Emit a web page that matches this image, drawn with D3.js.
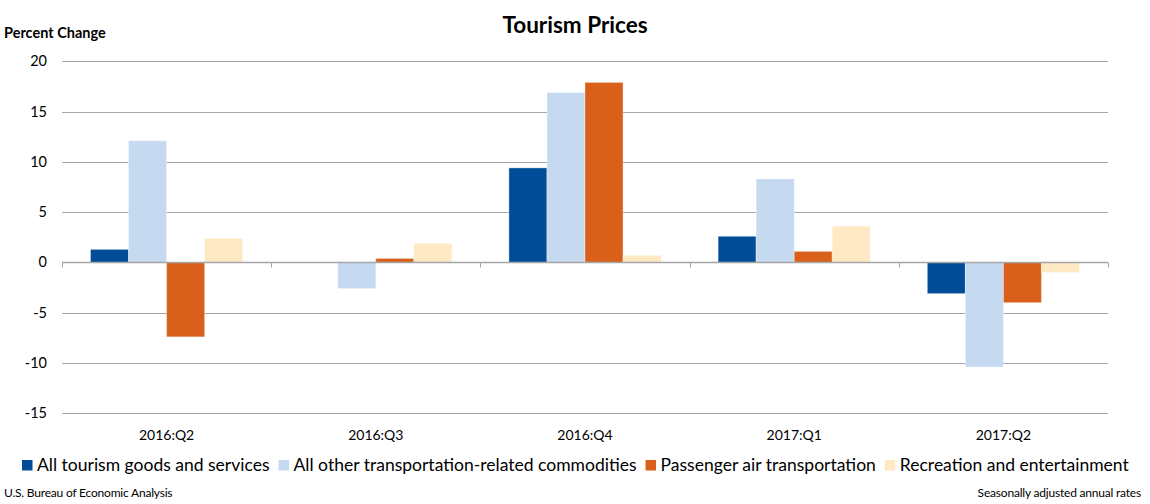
<!DOCTYPE html>
<html>
<head>
<meta charset="utf-8">
<script src="https://cdn.jsdelivr.net/npm/d3@7"></script>
<style>
  html, body { margin: 0; padding: 0; background: #fff; }
  svg { display: block; font-family: Lato, "Open Sans", sans-serif; }
</style>
</head>
<body>
<svg id="chart" width="1150" height="504"></svg>
<script>
const categories = ["2016:Q2", "2016:Q3", "2016:Q4", "2017:Q1", "2017:Q2"];
const seriesNames = [
  "All tourism goods and services",
  "All other transportation-related commodities",
  "Passenger air transportation",
  "Recreation and entertainment"
];
const allTourism = [1.3, 0.0, 9.4, 2.6, -3.1];
const otherTransport = [12.1, -2.6, 16.9, 8.3, -10.4];
const airTransport = [-7.4, 0.4, 17.9, 1.1, -4.0];
const recreation = [2.4, 1.9, 0.7, 3.6, -1.0];
const yTicks = [-15, -10, -5, 0, 5, 10, 15, 20];
const colors = ["#004C97", "#C5D9F1", "#D9601A", "#FFE8C4"];

const seriesValues = [allTourism, otherTransport, airTransport, recreation];

const svg = d3.select("#chart");
const plotLeft = 62, plotRight = 1108, plotTop = 61.3, plotBottom = 413.3;

const x = d3.scaleBand().domain(categories).range([plotLeft, plotRight]).paddingInner(0).paddingOuter(0);
const bandW = x.bandwidth();
const gapFrac = 1.5; // Excel gap width 150%
const barW = bandW / (seriesNames.length + gapFrac);
const x1 = d3.scaleBand().domain(d3.range(seriesNames.length))
  .range([barW * gapFrac / 2, barW * gapFrac / 2 + barW * seriesNames.length]);

const y = d3.scaleLinear().domain([-15, 20]).range([plotBottom, plotTop]);

// gridlines
svg.append("g").selectAll("line").data(yTicks.filter(d => d !== 0)).join("line")
  .attr("x1", plotLeft).attr("x2", plotRight)
  .attr("y1", d => Math.round(y(d)) + 0.5).attr("y2", d => Math.round(y(d)) + 0.5)
  .attr("stroke", "#A6A6A6").attr("stroke-width", 1);

// y tick labels
svg.append("g").selectAll("text").data(yTicks).join("text")
  .attr("x", 47).attr("y", d => y(d) + 5)
  .attr("text-anchor", "end")
  .attr("font-size", 14.5).attr("fill", "#000")
  .text(d => d);

// bars
const data = [];
categories.forEach((c, i) => {
  seriesValues.forEach((vals, s) => data.push({ c, s, v: vals[i] }));
});
svg.append("g").selectAll("rect").data(data.filter(d => d.v !== 0)).join("rect")
  .attr("x", d => x(d.c) + x1(d.s))
  .attr("width", x1.bandwidth())
  .attr("y", d => y(Math.max(0, d.v)))
  .attr("height", d => Math.abs(y(d.v) - y(0)))
  .attr("fill", d => colors[d.s])
  .attr("stroke", "#fff").attr("stroke-opacity", 0.35).attr("stroke-width", 1);

// zero axis line
const y0 = Math.round(y(0)) + 0.5;
svg.append("line").attr("x1", plotLeft).attr("x2", plotRight).attr("y1", y0).attr("y2", y0)
  .attr("stroke", "#A6A6A6").attr("stroke-width", 1.5);
// tick marks at category boundaries
const bounds = categories.map(c => x(c)).concat([plotRight]);
svg.append("g").selectAll("line").data(bounds).join("line")
  .attr("x1", d => Math.round(d) + 0.5).attr("x2", d => Math.round(d) + 0.5)
  .attr("y1", y0).attr("y2", y0 + 5)
  .attr("stroke", "#A6A6A6").attr("stroke-width", 1);

// category labels
svg.append("g").selectAll("text").data(categories).join("text")
  .attr("x", d => x(d) + bandW / 2).attr("y", 440)
  .attr("text-anchor", "middle").attr("font-size", 14).attr("fill", "#000")
  .text(d => d);

// title
svg.append("text").attr("x", 575).attr("y", 33).attr("text-anchor", "middle")
  .attr("font-size", 22.5).attr("font-weight", "bold").attr("fill", "#000")
  .text("Tourism Prices");

svg.append("text").attr("x", 4).attr("y", 38)
  .attr("font-size", 14.5).attr("font-weight", "bold").attr("fill", "#000")
  .text("Percent Change");

// legend
const legend = svg.append("g");
const sq = 10.5, gapSq = 4.5, gapItem = 9;
const items = legend.selectAll("g").data(seriesNames).join("g");
items.append("rect").attr("width", sq).attr("height", sq).attr("y", 460)
  .attr("fill", (d, i) => colors[i]);
const baseFont = 17;
items.append("text").attr("y", 471).attr("font-size", baseFont).attr("fill", "#000")
  .text(d => d);
let textTotal = 0;
items.select("text").each(function () { textTotal += this.getComputedTextLength(); });
const fixedW = seriesNames.length * (sq + gapSq) + (seriesNames.length - 1) * gapItem;
const legendFont = baseFont * (1108 - fixedW) / textTotal;
items.select("text").attr("font-size", legendFont);
let widths = [];
items.select("text").each(function () { widths.push(this.getComputedTextLength()); });
let cx = 22;
items.each(function (d, i) {
  const g = d3.select(this);
  g.select("rect").attr("x", cx);
  g.select("text").attr("x", cx + sq + gapSq);
  cx += sq + gapSq + widths[i] + gapItem;
});

// footers
svg.append("text").attr("x", 4).attr("y", 497).attr("font-size", 12).attr("fill", "#000")
  .attr("letter-spacing", -0.2)
  .text("U.S. Bureau of Economic Analysis");
svg.append("text").attr("x", 1141).attr("y", 497).attr("text-anchor", "end")
  .attr("font-size", 12).attr("fill", "#000").attr("letter-spacing", -0.2)
  .text("Seasonally adjusted annual rates");
</script>
</body>
</html>
